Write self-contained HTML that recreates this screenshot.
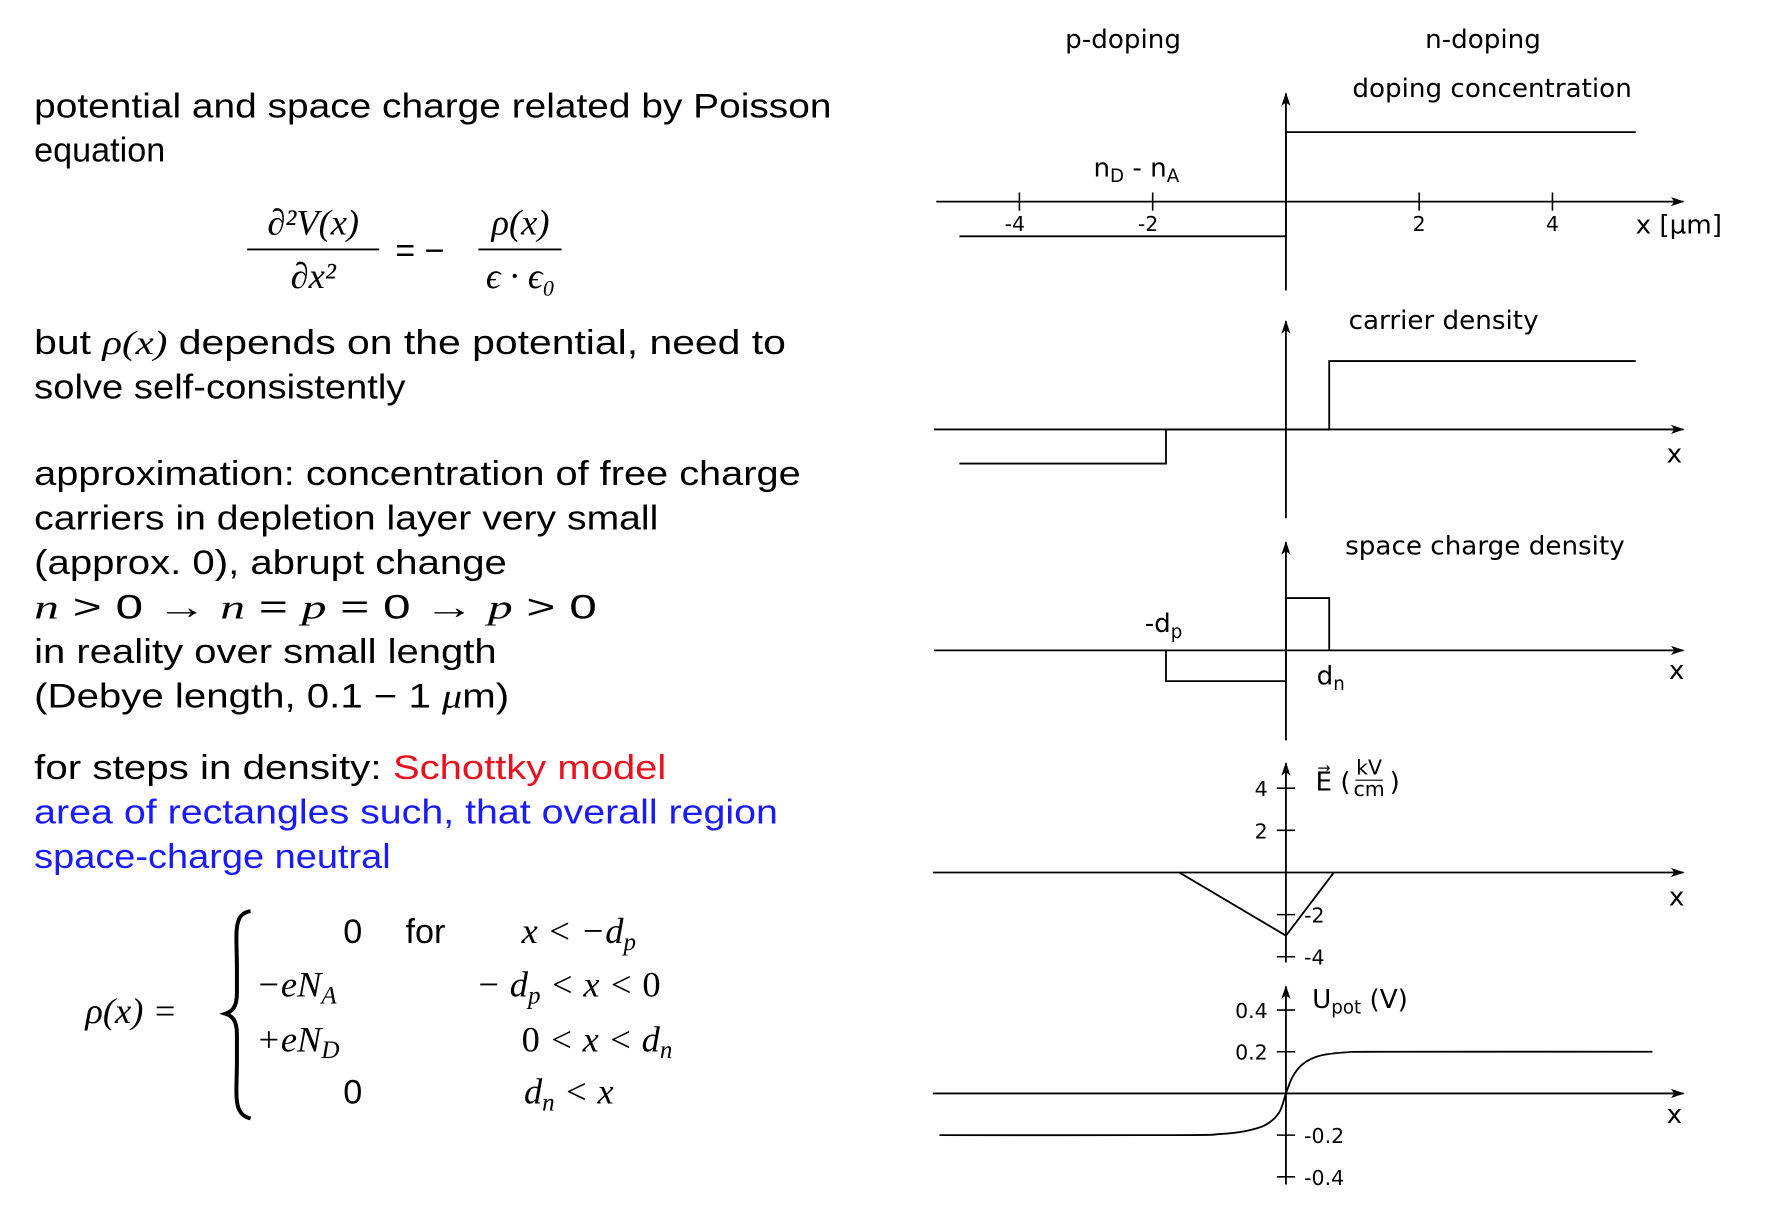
<!DOCTYPE html>
<html><head><meta charset="utf-8"><style>
body{margin:0;background:#fff}
svg{display:block}
.t{font-family:"Liberation Sans",sans-serif;font-size:30px;fill:#000}
.m{font-family:"Liberation Serif",serif;font-style:italic;font-size:32px;fill:#000}
.c{font-family:"DejaVu Sans","Liberation Sans",sans-serif;font-size:23px;fill:#000}
.k{font-family:"DejaVu Sans","Liberation Sans",sans-serif;font-size:18px;fill:#000}
</style></head><body>
<svg id="s" width="1786" height="1226" viewBox="0 0 1786 1226" xmlns="http://www.w3.org/2000/svg">
<defs><marker id="ar" markerWidth="12" markerHeight="8" refX="11" refY="4" orient="auto" markerUnits="userSpaceOnUse"><path d="M0,0 L12,4 L0,8 L3,4 z" fill="#000"/></marker></defs>
<g transform="scale(1.139)">
<g>
<text class="t" x="30" y="103" textLength="700" lengthAdjust="spacingAndGlyphs">potential and space charge related by Poisson</text>
<text class="t" x="30" y="142">equation</text>
<g>
<text class="m" x="275" y="206" text-anchor="middle" font-size="34">∂²V(x)</text>
<line x1="217" y1="219" x2="333" y2="219" stroke="#000" stroke-width="1.6"/>
<text class="m" x="275" y="253" text-anchor="middle" font-size="34">∂x²</text>
<text class="t" x="347" y="230" font-size="34">= −</text>
<text class="m" x="457" y="206" text-anchor="middle" font-size="34">ρ(x)</text>
<line x1="420" y1="219" x2="493" y2="219" stroke="#000" stroke-width="1.6"/>
<text class="m" x="457" y="253" text-anchor="middle" font-size="26">ϵ · ϵ₀</text>
</g>
<text class="t" x="30" y="311" textLength="660" lengthAdjust="spacingAndGlyphs">but <tspan font-family="Liberation Serif" font-style="italic">ρ(x)</tspan> depends on the potential, need to</text>
<text class="t" x="30" y="350" textLength="326" lengthAdjust="spacingAndGlyphs">solve self-consistently</text>
<text class="t" x="30" y="426" textLength="673" lengthAdjust="spacingAndGlyphs">approximation: concentration of free charge</text>
<text class="t" x="30" y="465" textLength="548" lengthAdjust="spacingAndGlyphs">carriers in depletion layer very small</text>
<text class="t" x="30" y="504" textLength="415" lengthAdjust="spacingAndGlyphs">(approx. 0), abrupt change</text>
<text class="t" x="30" y="543" textLength="494" lengthAdjust="spacingAndGlyphs"><tspan font-family="Liberation Serif" font-style="italic">n</tspan> &gt; 0  →  <tspan font-family="Liberation Serif" font-style="italic">n</tspan> = <tspan font-family="Liberation Serif" font-style="italic">p</tspan> = 0  →  <tspan font-family="Liberation Serif" font-style="italic">p</tspan> &gt; 0</text>
<text class="t" x="30" y="582" textLength="406" lengthAdjust="spacingAndGlyphs">in reality over small length</text>
<text class="t" x="30" y="621" textLength="417" lengthAdjust="spacingAndGlyphs">(Debye length, 0.1 − 1 <tspan font-family="Liberation Serif" font-style="italic">μ</tspan>m)</text>
<text class="t" x="30" y="684" textLength="305" lengthAdjust="spacingAndGlyphs">for steps in density:</text>
<text class="t" x="345" y="684" style="fill:#e8111f" textLength="240" lengthAdjust="spacingAndGlyphs">Schottky model</text>
<text class="t" x="30" y="723" style="fill:#1a1aff" textLength="653" lengthAdjust="spacingAndGlyphs">area of rectangles such, that overall region</text>
<text class="t" x="30" y="762" style="fill:#1a1aff" textLength="313" lengthAdjust="spacingAndGlyphs">space-charge neutral</text>
<g>
<text class="m" x="75" y="898">ρ(x) =</text>
<path d="M220,800 C204,802 208,820 208,850 L208,872 C208,884 204,888 198,890 C204,892 208,896 208,908 L208,932 C208,962 204,978 220,982" fill="none" stroke="#000" stroke-width="3.5"/>
<text class="t" x="318" y="828" text-anchor="end">0</text>
<text class="t" x="356" y="828">for</text>
<text class="m" x="458" y="828">x &lt; −d<tspan font-size="22" dy="6">p</tspan></text>
<text class="m" x="225" y="875">−eN<tspan font-size="22" dy="6">A</tspan></text>
<text class="m" x="418" y="875">− d<tspan font-size="22" dy="6">p</tspan><tspan dy="-6"> &lt; x &lt; </tspan><tspan font-style="normal">0</tspan></text>
<text class="m" x="225" y="923">+eN<tspan font-size="22" dy="6">D</tspan></text>
<text class="m" x="458" y="923"><tspan font-style="normal">0</tspan> &lt; x &lt; d<tspan font-size="22" dy="6">n</tspan></text>
<text class="t" x="318" y="969" text-anchor="end">0</text>
<text class="m" x="460" y="969">d<tspan font-size="22" dy="6">n</tspan><tspan dy="-6"> &lt; x</tspan></text>
</g>
</g>
<g id="charts"></g>
</g>
</svg>
<script>
// x in µm
const xTicks = [-4, -2, 2, 4];
const dopingX = [-4.9, 0, 0, 5.25];
const dopingY = [-1.0, -1.0, 2.0, 2.0];
const carrierX = [-4.9, -1.8, -1.8, 0.65, 0.65, 5.25];
const carrierY = [-1.0, -1.0, 0, 0, 2.0, 2.0];
const chargeX = [-1.8, -1.8, 0, 0, 0.65, 0.65];
const chargeY = [0, -1.0, -1.0, 1.7, 1.7, 0];
const fieldX = [-1.6, 0, 0.72];
const fieldY = [0, -3.0, 0];
const fieldTicks = [4, 2, -2, -4];
const potX = [-5.2, -1.6, -1.0, -0.6, -0.3, -0.1, 0, 0.1, 0.25, 0.5, 0.9, 1.5, 5.5];
const potY = [-0.2, -0.2, -0.195, -0.18, -0.15, -0.09, 0, 0.08, 0.14, 0.18, 0.197, 0.2, 0.2];
const potTicks = [0.4, 0.2, -0.2, -0.4];

const NS = 'http://www.w3.org/2000/svg';
const G = document.getElementById('charts');
const X0 = 1129, PXU = 58.5;
const X = u => X0 + u * PXU;
function el(tag, attrs, parent, txt) {
  const e = document.createElementNS(NS, tag);
  for (const k in attrs) e.setAttribute(k, attrs[k]);
  if (txt !== undefined) e.textContent = txt;
  (parent || G).appendChild(e);
  return e;
}
function txt(x, y, s, cls, anchor, name) {
  const t = el('text', {x: x, y: y, class: cls, 'text-anchor': anchor || 'start'}, G);
  
  
  t.innerHTML = s;
  return t;
}
function axes(y0, top, bottom, x1, x2, name) {
  const a = el('line', {x1: x1, y1: y0, x2: x2, y2: y0, stroke: '#000', 'stroke-width': 1.6, 'marker-end': 'url(#ar)'});
  
  
  const b = el('line', {x1: X0, y1: bottom, x2: X0, y2: top, stroke: '#000', 'stroke-width': 1.6, 'marker-end': 'url(#ar)'});
  
  
}
function series(xs, ys, Y, name) {
  const pts = xs.map((v, i) => X(v).toFixed(1) + ',' + Y(ys[i]).toFixed(1)).join(' ');
  const p = el('polyline', {points: pts, fill: 'none', stroke: '#000', 'stroke-width': 1.6});
  
  
}
function smooth(xs, ys, Y, name) {
  const P = xs.map((v, i) => [X(v), Y(ys[i])]);
  let d = 'M' + P[0][0] + ',' + P[0][1];
  for (let i = 0; i < P.length - 1; i++) {
    const p0 = P[i - 1] || P[i], p1 = P[i], p2 = P[i + 1], p3 = P[i + 2] || P[i + 1];
    const c1 = [p1[0] + (p2[0] - p0[0]) / 6, p1[1] + (p2[1] - p0[1]) / 6];
    const c2 = [p2[0] - (p3[0] - p1[0]) / 6, p2[1] - (p3[1] - p1[1]) / 6];
    d += ' C' + c1.join(',') + ' ' + c2.join(',') + ' ' + p2.join(',');
  }
  const p = el('path', {d: d, fill: 'none', stroke: '#000', 'stroke-width': 1.6});
  
  
}

txt(986, 42, 'p-doping', 'c', 'middle', 'p-doping-label');
txt(1302, 42, 'n-doping', 'c', 'middle', 'n-doping-label');

const Y1 = v => 177 - v * 30.5;
axes(177, 82, 255, 822, 1478, 'doping');
xTicks.forEach(t => {
  const l = el('line', {x1: X(t), y1: 169, x2: X(t), y2: 185, stroke: '#000', 'stroke-width': 1.4});
  
  
  txt(X(t) - (t < 0 ? 4 : 0), 203, String(t), 'k', 'middle', 'x-tick-label');
});
series(dopingX, dopingY, Y1, 'doping-line');
txt(1310, 85, 'doping concentration', 'c', 'middle', 'doping-title');
txt(960, 155, 'n<tspan font-size="16" dy="5">D</tspan><tspan dy="-5"> - n</tspan><tspan font-size="16" dy="5">A</tspan>', 'c', 'start', 'nd-na-label');
txt(1436, 205, 'x [µm]', 'c', 'start', 'x-unit-label');

const Y2 = v => 377 - v * 30;
axes(377, 282, 455, 820, 1478, 'carrier');
series(carrierX, carrierY, Y2, 'carrier-line');
txt(1184, 289, 'carrier density', 'c', 'start', 'carrier-title');
txt(1470, 406, 'x', 'c', 'middle', 'carrier-x-label');

const Y3 = v => 571 - v * 27;
axes(571, 476, 650, 820, 1478, 'charge');
series(chargeX, chargeY, Y3, 'charge-line');
txt(1181, 487, 'space charge density', 'c', 'start', 'charge-title');
txt(1005, 555, '-d<tspan font-size="16" dy="5">p</tspan>', 'c', 'start', 'dp-label');
txt(1156, 601, 'd<tspan font-size="16" dy="5">n</tspan>', 'c', 'start', 'dn-label');
txt(1472, 596, 'x', 'c', 'middle', 'charge-x-label');

const Y4 = v => 766 - v * 18.5;
axes(766, 670, 845, 819, 1478, 'field');
fieldTicks.forEach(t => {
  const l = el('line', {x1: X0 - 8, y1: Y4(t), x2: X0 + 8, y2: Y4(t), stroke: '#000', 'stroke-width': 1.4});
  
  
  if (t > 0) txt(X0 - 16, Y4(t) + 7, String(t), 'k', 'end', 'field-tick-label');
  else txt(X0 + 16, Y4(t) + 7, String(t), 'k', 'start', 'field-tick-label');
});
series(fieldX, fieldY, Y4, 'field-line');
txt(1155, 694, 'E⃗ (', 'c', 'start', 'field-title');
txt(1202, 680, 'kV', 'k', 'middle', 'field-unit-num');
el('line', {x1: 1190, y1: 685, x2: 1214, y2: 685, stroke: '#000', 'stroke-width': 1});
txt(1202, 699, 'cm', 'k', 'middle', 'field-unit-den');
txt(1220, 694, ')', 'c', 'start', 'field-title-close');
txt(1472, 795, 'x', 'c', 'middle', 'field-x-label');

const Y5 = v => 960 - v * 183;
axes(960, 866, 1040, 819, 1478, 'potential');
potTicks.forEach(t => {
  const l = el('line', {x1: X0 - 8, y1: Y5(t), x2: X0 + 8, y2: Y5(t), stroke: '#000', 'stroke-width': 1.4});
  
  
  if (t > 0) txt(X0 - 16, Y5(t) + 7, String(t), 'k', 'end', 'potential-tick-label');
  else txt(X0 + 16, Y5(t) + 7, String(t), 'k', 'start', 'potential-tick-label');
});
smooth(potX, potY, Y5, 'potential-curve');
txt(1152, 885, 'U<tspan font-size="16" dy="5">pot</tspan><tspan dy="-5"> (V)</tspan>', 'c', 'start', 'potential-title');
txt(1470, 986, 'x', 'c', 'middle', 'potential-x-label');
</script>
</body></html>
